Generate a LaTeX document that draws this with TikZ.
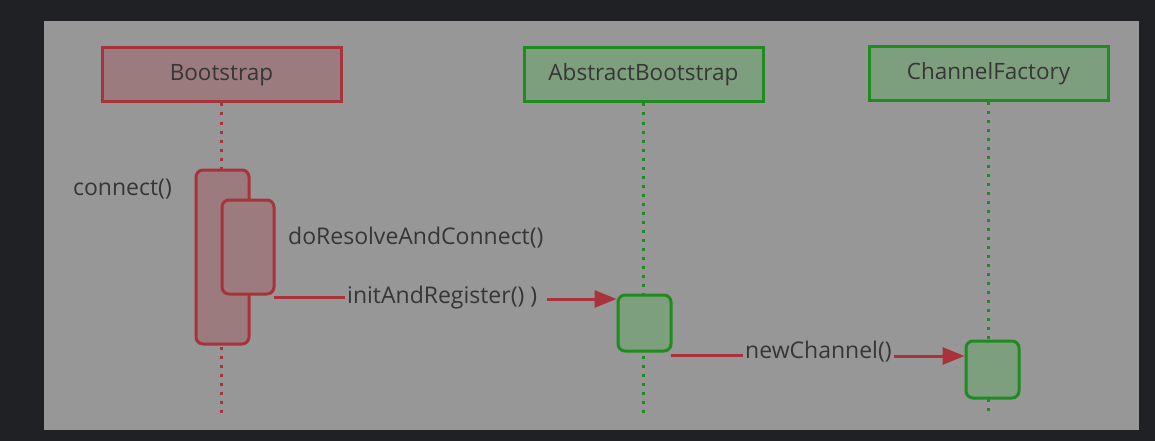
\documentclass[tikz,border=0pt]{standalone}
\usepackage{fontspec}
\setmainfont{Open Sans}
\usetikzlibrary{arrows.meta}
\definecolor{outerbg}{HTML}{202124}
\definecolor{panelbg}{HTML}{979797}
\definecolor{redline}{HTML}{A8333A}
\definecolor{redfill}{HTML}{9B7B7E}
\definecolor{greenline}{HTML}{1F8C1F}
\definecolor{greenfill}{HTML}{7E9F7E}
\definecolor{txt}{HTML}{363636}
\tikzset{
	head/.style={draw,line width=3pt,minimum width=239pt,minimum height=54pt,inner sep=0pt,text=txt,font=\fontsize{22.5}{26}\selectfont},
	redhead/.style={head,draw=redline,fill=redfill},
	greenhead/.style={head,draw=greenline,fill=greenfill},
	act/.style={draw,line width=3pt,rounded corners=7pt,minimum width=53pt,inner sep=0pt},
	redact/.style={act,draw=redline,fill=redfill},
	greenact/.style={act,draw=greenline,fill=greenfill},
	life/.style={line width=3pt,dash pattern=on 3pt off 6pt},
	lbl/.style={text=txt,font=\fontsize{23}{27}\selectfont,inner sep=2pt},
	msg/.style={draw=redline,line width=3pt},
	msgarrow/.style={msg,-{Triangle[length=22pt,width=17pt]}}
}
\begin{document}
\begin{tikzpicture}[x=1pt,y=-1pt]
		\fill[outerbg] (0,0) rectangle (1155,441);
		\fill[panelbg] (44,21) rectangle (1139,430);
		\node[redhead] (boot) at (221.5,75) {Bootstrap};
		\node[greenhead] (abs) at (643.5,75) {AbstractBootstrap};
		\node[greenhead] (fac) at (988.5,73.5) {ChannelFactory};
		\coordinate (bootend) at (221.5,415);
		\coordinate (absend) at (643.5,415);
		\coordinate (facend) at (988.5,414);
		\draw[life,redline] (boot.south) -- (bootend);
		\draw[life,greenline] (abs.south) -- (absend);
		\draw[life,greenline] (fac.south) -- (facend);
		\node[redact,minimum height=174pt] (conn) at (222.5,257) {};
		\node[redact,minimum width=52pt,minimum height=94pt] (resolve) at (248,247) {};
		\node[greenact,minimum height=56pt] (init) at (644.5,323) {};
		\node[greenact,minimum height=57pt] (chan) at (992.5,369.5) {};
		\node[lbl,anchor=east] (connlbl) at (174,189) {connect()};
		\node[lbl,anchor=west] (resolvelbl) at (286,238) {doResolveAndConnect()};
		\node[lbl,anchor=west] (initlbl) at (345,298) {initAndRegister() )};
		\node[lbl,anchor=west] (chanlbl) at (743,352) {newChannel()};
		\draw[msg] ([xshift=-2pt,yshift=-1.5pt]resolve.south east) -- ([yshift=-1.5pt]resolve.south east -| initlbl.west);
		\draw[msgarrow] ([xshift=8pt,yshift=-1pt]initlbl.east) -- ([yshift=-1pt]initlbl.east -| init.west);
		\draw[msg] ([xshift=-2pt,yshift=-3pt]init.south east) -- ([yshift=-3pt]init.south east -| chanlbl.west);
		\draw[msgarrow] ([yshift=-4pt]chanlbl.east) -- ([yshift=-4pt]chanlbl.east -| chan.west);
	\end{tikzpicture}
\end{document}
